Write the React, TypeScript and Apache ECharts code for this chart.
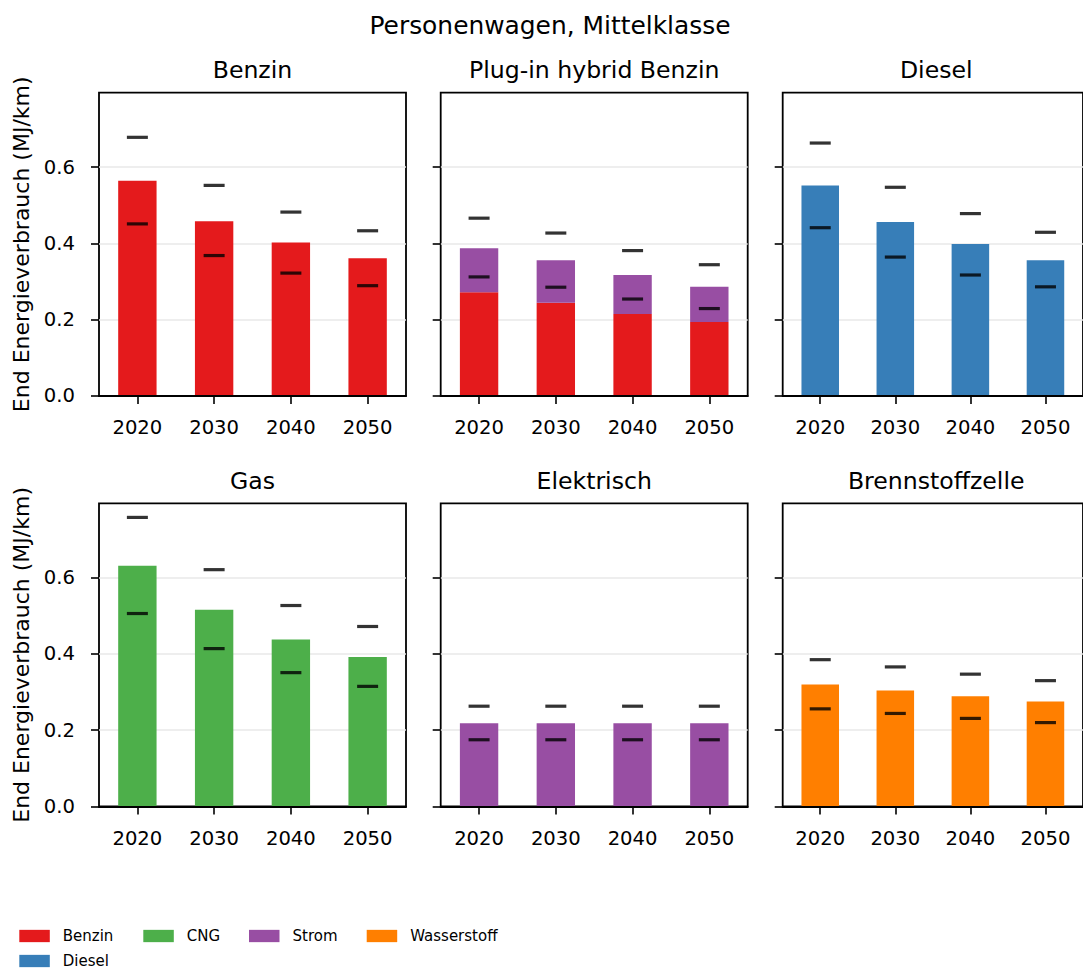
import React, { useEffect, useRef } from "react";
import * as echarts from "echarts";

// ---------- data ----------
const years = ["2020", "2030", "2040", "2050"];
const yTicks = [0, 0.2, 0.4, 0.6];
const yMax = 0.795;

const benzinMean = [0.564, 0.458, 0.402, 0.361];
const benzinHigh = [0.678, 0.552, 0.482, 0.433];
const benzinLow = [0.451, 0.368, 0.322, 0.289];

const phevBenzin = [0.272, 0.244, 0.215, 0.194];
const phevStrom = [0.115, 0.112, 0.102, 0.092];
const phevHigh = [0.466, 0.427, 0.381, 0.344];
const phevLow = [0.312, 0.285, 0.254, 0.229];

const dieselMean = [0.552, 0.456, 0.398, 0.356];
const dieselHigh = [0.663, 0.547, 0.478, 0.429];
const dieselLow = [0.441, 0.364, 0.317, 0.286];

const gasMean = [0.631, 0.516, 0.438, 0.392];
const gasHigh = [0.758, 0.621, 0.527, 0.472];
const gasLow = [0.506, 0.414, 0.351, 0.315];

const elekMean = [0.218, 0.218, 0.218, 0.218];
const elekHigh = [0.263, 0.263, 0.263, 0.263];
const elekLow = [0.175, 0.175, 0.175, 0.175];

const bszMean = [0.32, 0.304, 0.289, 0.275];
const bszHigh = [0.385, 0.366, 0.347, 0.33];
const bszLow = [0.256, 0.244, 0.231, 0.22];

const fuelColors: Record<string, string> = {
  Benzin: "#e41a1c",
  Diesel: "#377eb8",
  CNG: "#4daf4a",
  Strom: "#984ea3",
  Wasserstoff: "#ff7f00",
};

const panels = [
  { title: "Benzin", bars: [{ fuel: "Benzin", data: benzinMean }], high: benzinHigh, low: benzinLow },
  {
    title: "Plug-in hybrid Benzin",
    bars: [
      { fuel: "Benzin", data: phevBenzin },
      { fuel: "Strom", data: phevStrom },
    ],
    high: phevHigh,
    low: phevLow,
  },
  { title: "Diesel", bars: [{ fuel: "Diesel", data: dieselMean }], high: dieselHigh, low: dieselLow },
  { title: "Gas", bars: [{ fuel: "CNG", data: gasMean }], high: gasHigh, low: gasLow },
  { title: "Elektrisch", bars: [{ fuel: "Strom", data: elekMean }], high: elekHigh, low: elekLow },
  { title: "Brennstoffzelle", bars: [{ fuel: "Wasserstoff", data: bszMean }], high: bszHigh, low: bszLow },
];

const mainTitle = "Personenwagen, Mittelklasse";
const yLabel = "End Energieverbrauch (MJ/km)";

// ---------- layout ----------
const FONT = "DejaVu Sans";
const COL_LEFT = [99, 440.7, 782.7];
const ROW_TOP = [92.7, 503.3];
const GW = 307;
const GH = 303.2;

export default function App() {
  const ref = useRef<HTMLDivElement>(null);

  useEffect(() => {
    if (!ref.current) return;
    const chart = echarts.init(ref.current, undefined, { renderer: "svg" });

    const grids: any[] = [];
    const xAxes: any[] = [];
    const yAxes: any[] = [];
    const series: any[] = [];
    const graphics: any[] = [];

    panels.forEach((p, i) => {
      const col = i % 3;
      const row = Math.floor(i / 3);
      const left = COL_LEFT[col];
      const top = ROW_TOP[row];
      grids.push({
        left,
        top,
        width: GW,
        height: GH,
        show: true,
        borderColor: "#000",
        borderWidth: 1.8,
        backgroundColor: "transparent",
        containLabel: false,
      });
      xAxes.push({
        type: "category",
        gridIndex: i,
        data: years,
        boundaryGap: true,
        z: 5,
        axisLine: { show: true, lineStyle: { color: "#000", width: 1.8 } },
        axisTick: { show: true, alignWithLabel: true, length: 8, lineStyle: { color: "#000", width: 1.6 } },
        axisLabel: { margin: 22, fontSize: 19.6, fontFamily: FONT, color: "#000" },
        splitLine: { show: false },
      });
      yAxes.push({
        type: "value",
        gridIndex: i,
        min: 0,
        max: yMax,
        interval: 0.2,
        axisLine: { show: false },
        axisTick: {
          show: true,
          length: 8,
          customValues: yTicks,
          lineStyle: { color: "#000", width: 1.6 },
        },
        axisLabel: {
          show: col === 0,
          customValues: yTicks,
          margin: 24,
          fontSize: 19.6,
          fontFamily: FONT,
          color: "#000",
          formatter: (v: number) => v.toFixed(1),
        },
        splitLine: { show: true, lineStyle: { color: "#e8e8e8", width: 1.5 } },
      });

      p.bars.forEach((b) => {
        series.push({
          type: "bar",
          name: b.fuel,
          xAxisIndex: i,
          yAxisIndex: i,
          stack: "s" + i,
          data: b.data,
          barWidth: "50%",
          itemStyle: { color: fuelColors[b.fuel] },
          z: 2,
        });
      });
      [p.high, p.low].forEach((d, k) => {
        series.push({
          type: "scatter",
          name: k === 0 ? "obere Grenze" : "untere Grenze",
          xAxisIndex: i,
          yAxisIndex: i,
          data: d,
          symbol: "rect",
          symbolSize: [21, 3.2],
          itemStyle: { color: "#000" },
          z: 6,
        });
      });

      graphics.push({
        type: "text",
        x: left + GW / 2,
        y: top - 22.7,
        style: {
          text: p.title,
          fontSize: 23.6,
          fontFamily: FONT,
          fill: "#000",
          align: "center",
          verticalAlign: "middle",
        },
      });
      if (col === 0) {
        graphics.push({
          type: "text",
          x: 21,
          y: top + GH / 2,
          rotation: Math.PI / 2,
          style: {
            text: yLabel,
            fontSize: 22,
            fontFamily: FONT,
            fill: "#000",
            align: "center",
            verticalAlign: "middle",
          },
        });
      }
    });

    graphics.push({
      type: "text",
      x: 550,
      y: 25,
      style: {
        text: mainTitle,
        fontSize: 24.9,
        fontFamily: FONT,
        fill: "#000",
        align: "center",
        verticalAlign: "middle",
      },
    });

    const legendBase = {
      icon: "rect",
      itemWidth: 30.5,
      itemHeight: 12.3,
      padding: 0,
      itemGap: 10,
      selectedMode: false,
      orient: "vertical",
      top: 928.5,
      itemStyle: { borderWidth: 0 },
      textStyle: { fontSize: 15, fontFamily: FONT, color: "#000", lineHeight: 15, padding: [0, 0, 0, 8] },
    };
    const legends = [
      { ...legendBase, left: 19.3, data: ["Benzin", "Diesel"] },
      { ...legendBase, left: 143.3, data: ["CNG"] },
      { ...legendBase, left: 249, data: ["Strom"] },
      { ...legendBase, left: 366.7, data: ["Wasserstoff"] },
    ];

    chart.setOption({
      animation: false,
      backgroundColor: "#fff",
      textStyle: { fontFamily: FONT },
      grid: grids,
      xAxis: xAxes,
      yAxis: yAxes,
      series,
      legend: legends,
      graphic: graphics,
    });

    return () => chart.dispose();
  }, []);

  return (
    <div
      ref={ref}
      style={{ position: "absolute", left: 0, top: 0, width: 1083, height: 971 }}
    />
  );
}
